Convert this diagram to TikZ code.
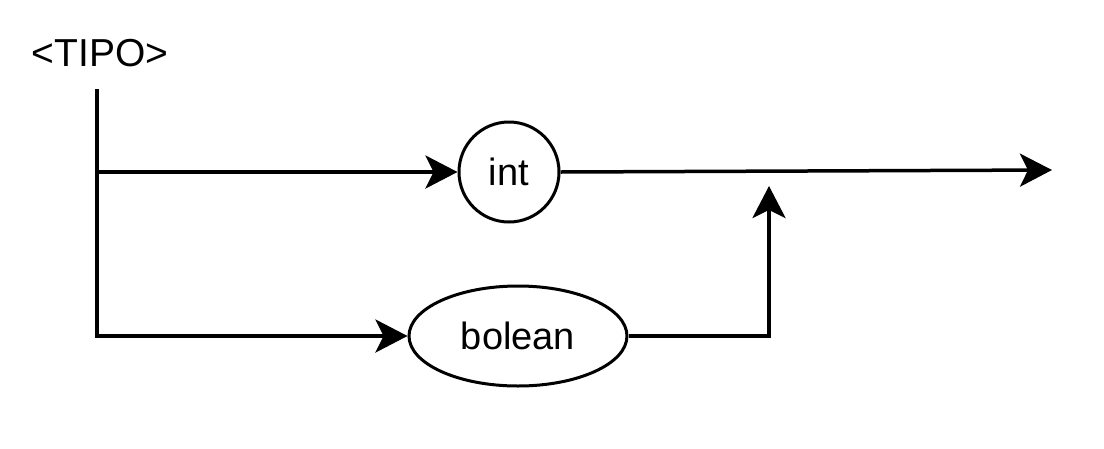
\documentclass[tikz,border=0pt]{standalone}
\usepackage{fontspec}
\setmainfont{Liberation Sans}
\usetikzlibrary{arrows.meta,shapes.geometric}
\begin{document}
\begin{tikzpicture}[x=1pt,y=-1pt,
  conn/.style={line width=3.5pt,-{Stealth[length=32pt,width=33pt,inset=8pt]}},
  term/.style={draw,line width=3pt,font=\fontsize{38}{40}\selectfont,inner sep=0pt}]
\useasboundingbox (0,0) rectangle (1104,448);
\node[font=\fontsize{39}{42}\selectfont,inner sep=0pt] (title) at (100,53) {<TIPO>};
\coordinate (top) at (97,89);
\coordinate (split) at (97,172);
\coordinate (bl) at (97,336);
\node[term,circle,minimum size=100pt] (int) at (509,172) {int};
\node[term,ellipse,minimum width=218pt,minimum height=100pt] (bol) at (518,336) {bolean};
\coordinate (join) at (769,336);
\coordinate (joinup) at (769,186);
\coordinate (out) at (1052,170);
\draw[conn] (top) -- (bl) -- (bol);
\draw[conn] (split) -- (int);
\draw[conn] (int.east) -- (out);
\draw[conn] (bol.east) -- (join) -- (joinup);
\end{tikzpicture}
\end{document}
